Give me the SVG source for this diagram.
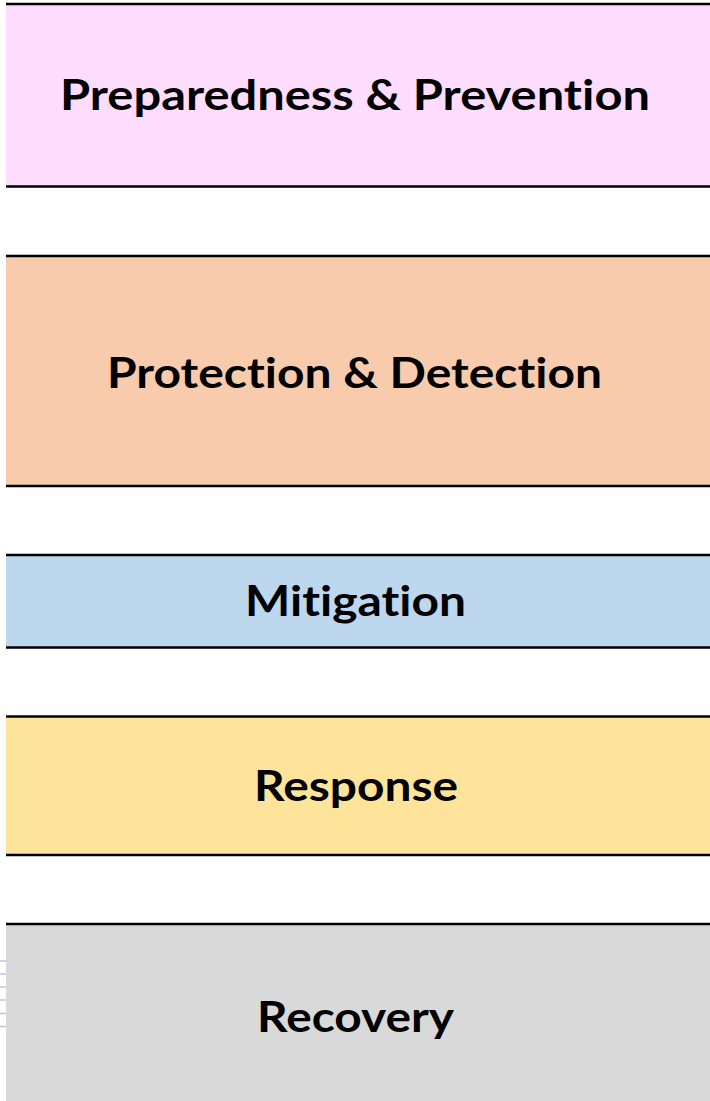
<svg xmlns="http://www.w3.org/2000/svg" width="710" height="1101" viewBox="0 0 710 1101">
<style>
.band{stroke:none}
.edge{stroke:#000;stroke-width:2.6}
.lbl{font-family:"Lato","Open Sans","Liberation Sans",sans-serif;font-weight:bold;font-size:42px;fill:#000;text-anchor:middle;font-variant-ligatures:none;font-feature-settings:"liga" 0}
.tick{stroke:#b4c8e4;stroke-width:1.5}
</style>
<rect width="710" height="1101" fill="#fff"/>
<g id="preparedness">
<rect class="band" x="6" y="4" width="704" height="182" fill="#fedcfe"/>
<line class="edge" x1="6" y1="4" x2="710" y2="4"/>
<line class="edge" x1="6" y1="186.5" x2="710" y2="186.5"/>
<text class="lbl" x="355" y="110" textLength="590" lengthAdjust="spacingAndGlyphs">Preparedness &amp; Prevention</text>
</g>
<g id="protection">
<rect class="band" x="6" y="256" width="704" height="230" fill="#f8cbad"/>
<line class="edge" x1="6" y1="256" x2="710" y2="256"/>
<line class="edge" x1="6" y1="486" x2="710" y2="486"/>
<text class="lbl" x="354.5" y="388" textLength="495" lengthAdjust="spacingAndGlyphs">Protection &amp; Detection</text>
</g>
<g id="mitigation">
<rect class="band" x="6" y="555" width="704" height="92" fill="#bdd7ee"/>
<line class="edge" x1="6" y1="555" x2="710" y2="555"/>
<line class="edge" x1="6" y1="647.5" x2="710" y2="647.5"/>
<text class="lbl" x="355.5" y="616" textLength="221" lengthAdjust="spacingAndGlyphs">Mitigation</text>
</g>
<g id="response">
<rect class="band" x="6" y="716" width="704" height="139" fill="#fee49a"/>
<line class="edge" x1="6" y1="716.5" x2="710" y2="716.5"/>
<line class="edge" x1="6" y1="855" x2="710" y2="855"/>
<text class="lbl" x="356" y="801" textLength="204" lengthAdjust="spacingAndGlyphs">Response</text>
</g>
<g id="recovery">
<rect class="band" x="6" y="924" width="704" height="177" fill="#d9d9d9"/>
<line class="edge" x1="6" y1="924" x2="710" y2="924"/>
<text class="lbl" x="355.5" y="1032" textLength="197" lengthAdjust="spacingAndGlyphs">Recovery</text>
</g>
<g id="connectors"></g>
<g id="margin-ticks">
<line class="tick" x1="0" y1="961" x2="6" y2="961"/>
<line class="tick" x1="0" y1="974" x2="6" y2="974"/>
<line class="tick" x1="0" y1="987" x2="6" y2="987"/>
<line class="tick" x1="0" y1="1000" x2="6" y2="1000"/>
<line class="tick" x1="0" y1="1013.5" x2="6" y2="1013.5"/>
<line class="tick" x1="0" y1="1026.5" x2="6" y2="1026.5"/>
</g>
</svg>
